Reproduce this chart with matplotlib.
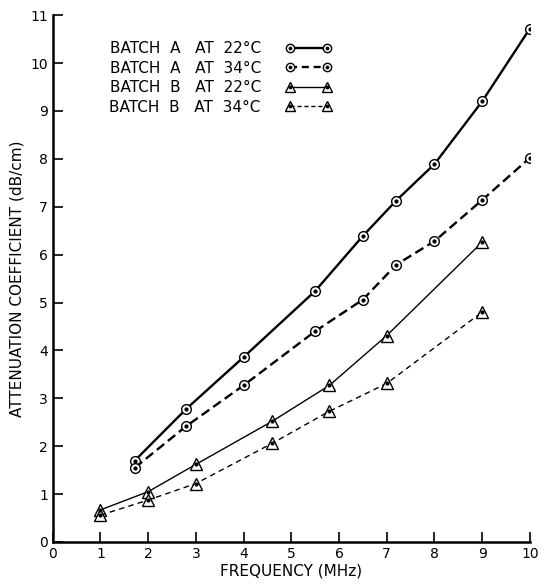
import matplotlib
matplotlib.use("Agg")
import matplotlib.pyplot as plt
from matplotlib.lines import Line2D

# data
a22_f = [1.72, 2.8, 4.0, 5.5, 6.5, 7.2, 8.0, 9.0, 10.0]
a22_y = [1.70, 2.78, 3.86, 5.24, 6.39, 7.13, 7.89, 9.20, 10.72]
a34_f = [1.72, 2.8, 4.0, 5.5, 6.5, 7.2, 8.0, 9.0, 10.0]
a34_y = [1.55, 2.42, 3.27, 4.40, 5.06, 5.79, 6.28, 7.14, 8.02]
b22_f = [1.0, 2.0, 3.0, 4.6, 5.8, 7.0, 9.0]
b22_y = [0.67, 1.05, 1.62, 2.52, 3.27, 4.31, 6.26]
b34_f = [1.0, 2.0, 3.0, 4.6, 5.8, 7.0, 9.0]
b34_y = [0.56, 0.875, 1.22, 2.06, 2.73, 3.31, 4.80]

labels = ['BATCH  A   AT  22°C', 'BATCH  A   AT  34°C',
          'BATCH  B   AT  22°C', 'BATCH  B   AT  34°C']

fig = plt.figure(figsize=(5.44, 5.84), dpi=100)
ax = fig.add_axes([0.097, 0.072, 0.877, 0.902])

def draw(f, y, ls, lw, mk, ms):
    ax.plot(f, y, color='black', ls=ls, lw=lw, marker=mk, ms=ms,
            mfc='white', mec='black', mew=1.0, zorder=3)
    ax.plot(f, y, ls='none', marker='.', ms=4, color='black', zorder=4)

draw(a22_f, a22_y, '-', 1.7, 'o', 7)
draw(a34_f, a34_y, (0, (4, 2)), 1.7, 'o', 7)
draw(b22_f, b22_y, '-', 1.0, '^', 8)
draw(b34_f, b34_y, (0, (4, 3)), 1.0, '^', 8)

def handle(ls, lw, mk, ms):
    ln = Line2D([], [], color='black', ls=ls, lw=lw, marker=mk, ms=ms,
                mfc='white', mec='black')
    dot = Line2D([], [], ls='none', marker='.', ms=3.5, color='black')
    return (ln, dot)

handles = [handle('-', 1.7, 'o', 6), handle((0, (3, 2)), 1.7, 'o', 6),
           handle('-', 1.0, '^', 7), handle((0, (3, 2)), 1.0, '^', 7)]
leg = ax.legend(handles, labels, loc='upper left', bbox_to_anchor=(0.09, 0.977),
                frameon=False, markerfirst=False, numpoints=2, handlelength=3.0,
                fontsize=11, labelspacing=0.3, handletextpad=1.6)
leg._legend_box.align = 'right'

ax.set_xlim(0, 10)
ax.set_ylim(0, 11)
ax.set_xticks(range(0, 11))
ax.set_yticks(range(0, 12))
ax.spines['top'].set_visible(False)
ax.spines['right'].set_visible(False)
ax.spines['left'].set_linewidth(1.8)
ax.spines['bottom'].set_linewidth(1.8)
ax.tick_params(direction='in', length=7, width=1.2, labelsize=10)
ax.set_xlabel('FREQUENCY (MHz)', fontsize=11, labelpad=2)
ax.set_ylabel('ATTENUATION COEFFICIENT (dB/cm)', fontsize=11, labelpad=4)

fig.savefig('out.png', dpi=100)
